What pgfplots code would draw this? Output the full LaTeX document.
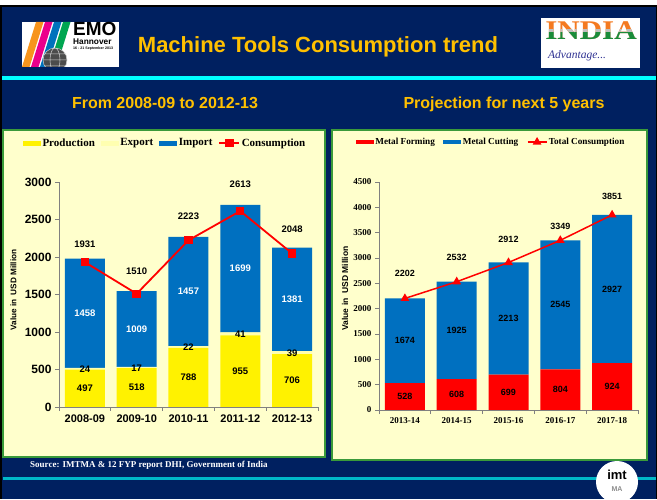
\documentclass[border=0pt]{standalone}
\usepackage{fontspec}
\setmainfont{Liberation Serif}
\setsansfont{Liberation Sans}
\usepackage{pgfplots}
\pgfplotsset{compat=1.18}
\definecolor{navy}{HTML}{002060}
\definecolor{amber}{HTML}{FFC000}
\definecolor{cyanl}{HTML}{00FFFF}
\definecolor{teall}{HTML}{00B8C8}
\definecolor{panelbg}{HTML}{FFFFCC}
\definecolor{panelbd}{HTML}{3A9A3A}
\definecolor{barblue}{HTML}{0070C0}
\definecolor{exportc}{HTML}{FFFFB0}
\definecolor{axisgray}{HTML}{808080}
\definecolor{emoorange}{HTML}{F7941D}
\definecolor{emomagenta}{HTML}{EC008C}
\definecolor{emoblue}{HTML}{0072BC}
\definecolor{emogreen}{HTML}{00A651}
\definecolor{indiaor}{HTML}{F47A20}
\definecolor{indiagr}{HTML}{1A8C3A}
\definecolor{advblue}{HTML}{2E3192}
\pgfplotsset{
  linelegendA/.style={legend image code/.code={\draw[##1, mark repeat=2, mark phase=2] plot coordinates {(0pt,0pt) (10pt,0pt) (20pt,0pt)};}},
  linelegendB/.style={legend image code/.code={\draw[##1, mark repeat=2, mark phase=2] plot coordinates {(0pt,0pt) (9.5pt,0pt) (19pt,0pt)};}},
  swatchA/.style={legend image code/.code={\fill[##1, draw=none] (0pt,-2.5pt) rectangle (18pt,2.5pt);}},
  swatchB/.style={legend image code/.code={\fill[##1, draw=none] (0pt,-2.3pt) rectangle (18pt,2.3pt);}},
}
\begin{document}
\begin{tikzpicture}[x=1pt,y=1pt]
\useasboundingbox (0,0) rectangle (657,499);
\fill[white] (0,0) rectangle (657,499);
\fill[black] (0,0) rectangle (657,494);
\fill[navy] (1.5,0) rectangle (655.5,492);
% EMO logo
\fill[white] (22,432) rectangle (119,477);
\begin{scope}
\clip (22,432) rectangle (119,477);
\foreach \c [count=\i from 0] in {emoorange,emomagenta,emoblue,emogreen}
  {\fill[\c] ({22+9*\i},432) -- ({29.5+9*\i},432) -- ({43.5+9*\i},477) -- ({36+9*\i},477) -- cycle;}
\fill[black!70] (55,439) circle (12);
\draw[white!80!black, line width=0.5pt] (55,439) circle (12) (55,439) ellipse (5 and 12) (43,439) -- (67,439) (44,445) -- (66,445) (44,433) -- (66,433);
\node[anchor=base west, inner sep=0pt, font=\fontsize{19}{19}\sffamily\bfseries] at (73,463) {EMO};
\node[anchor=base west, inner sep=0pt, font=\fontsize{8.3}{8.3}\sffamily\bfseries] at (73,454) {Hannover};
\node[anchor=base west, inner sep=0pt, font=\fontsize{3.6}{3.6}\sffamily\bfseries] at (73,449) {16 - 21 September 2013};
\end{scope}
% INDIA logo
\fill[white] (541,431) rectangle (640,481);
\node[anchor=base, inner sep=0pt, xscale=1.15, text=indiaor, font=\fontsize{27}{27}\rmfamily\bfseries] at (591,459) {INDIA};
\begin{scope}
\clip (541,459) rectangle (640,469);
\node[anchor=base, inner sep=0pt, xscale=1.15, text=black!25, font=\fontsize{27}{27}\rmfamily\bfseries] at (591,459) {INDIA};
\end{scope}
\begin{scope}
\clip (541,455) rectangle (640,466);
\node[anchor=base, inner sep=0pt, xscale=1.15, text=indiagr, font=\fontsize{27}{27}\rmfamily\bfseries] at (591,459) {INDIA};
\end{scope}
\node[anchor=base west, inner sep=0pt, text=advblue, font=\fontsize{11.5}{11.5}\rmfamily\itshape] at (548,440) {Advantage...};
% title
\node[anchor=base, inner sep=0pt, text=amber, font=\fontsize{22}{22}\sffamily\bfseries] at (318,446) {Machine Tools Consumption trend};
\fill[cyanl] (1.5,419) rectangle (655.5,423);
\node[anchor=base, inner sep=0pt, text=amber, font=\fontsize{16}{16}\sffamily\bfseries] at (165,390) {From 2008-09 to 2012-13};
\node[anchor=base, inner sep=0pt, text=amber, font=\fontsize{16}{16}\sffamily\bfseries] at (504,390) {Projection for next 5 years};
% panels
\filldraw[fill=panelbg, draw=panelbd, line width=2pt] (3,42) rectangle (325,369);
\filldraw[fill=panelbg, draw=panelbd, line width=2pt] (332,39) rectangle (647,369);
% source and bottom line
\node[anchor=base west, inner sep=0pt, text=white, font=\fontsize{9}{9}\rmfamily\bfseries] at (30,32) {Source: IMTMA \& 12 FYP report DHI, Government of India};
\fill[teall] (3,19) rectangle (655.5,22);
\fill[white] (617,17) circle (21);
\node[inner sep=0pt, font=\fontsize{13}{13}\sffamily\bfseries] at (617,24) {imt};
\node[inner sep=0pt, text=black!45, font=\fontsize{7}{7}\sffamily\bfseries] at (617,10) {MA};

% ---------- LEFT CHART ----------
\begin{axis}[at={(59pt,92pt)}, anchor=south west, scale only axis, width=259pt, height=225pt,
  xmin=-0.5, xmax=4.5, ymin=0, ymax=3000,
  ybar stacked, bar width=40pt,
  axis x line*=bottom, axis y line*=left,
  axis line style={draw=axisgray, line width=0.8pt, -},
  tick style={draw=axisgray, line width=0.8pt}, tick align=outside, major tick length=4pt,
  xtick={-0.5,0.5,1.5,2.5,3.5,4.5},
  xticklabels={2008-09,2009-10,2010-11,2011-12,2012-13,},
  xticklabel style={font=\fontsize{11}{11}\sffamily\bfseries, xshift=25.9pt},
  ytick={0,500,1000,1500,2000,2500,3000},
  yticklabel style={font=\fontsize{12}{12}\sffamily\bfseries},
  ylabel={Value in\ \ USD Million},
  ylabel style={at={(axis description cs:-0.176,0.52)}, anchor=center, font=\fontsize{8.2}{8.2}\sffamily\bfseries},
  /pgf/number format/assume math mode=true, /pgf/number format/1000 sep={}]
\addplot[fill=yellow, draw=none] coordinates {(0,497) (1,518) (2,788) (3,955) (4,706)};
\addplot[fill=exportc, draw=none] coordinates {(0,24) (1,17) (2,22) (3,41) (4,39)};
\addplot[fill=barblue, draw=none] coordinates {(0,1458) (1,1009) (2,1457) (3,1699) (4,1381)};
\end{axis}
\begin{axis}[at={(59pt,92pt)}, anchor=south west, scale only axis, width=259pt, height=225pt,
  xmin=-0.5, xmax=4.5, ymin=0, ymax=3000, axis lines=none, clip=false,
  legend style={at={(axis description cs:0.409,1.173)}, anchor=center, draw=none, fill=none,
    font=\fontsize{11}{11}\rmfamily\bfseries, inner sep=0pt, nodes={inner sep=1.5pt},
    /tikz/every even column/.append style={column sep=4.5pt}},
  legend columns=-1, legend cell align=left]
\addlegendimage{swatchA, fill=yellow}
\addlegendentry{Production}
\addlegendimage{swatchA, fill=exportc}
\addlegendentry{Export}
\addlegendimage{swatchA, fill=barblue}
\addlegendentry{Import}
\addplot[red, line width=1.8pt, mark=square*, mark size=3.3pt, mark options={solid}, linelegendA]
  coordinates {(0,1931) (1,1510) (2,2223) (3,2613) (4,2048)};
\addlegendentry{Consumption}
% labels
\addplot[forget plot, only marks, mark=none, nodes near coords, point meta=explicit symbolic,
  every node near coord/.append style={anchor=center, text=black, font=\fontsize{9.5}{9.5}\sffamily\bfseries}]
  table[meta=l] {
x y l
0 248 497
1 259 518
2 394 788
3 477 955
4 353 706
0 507 24
1 522 17
2 799 22
3 974 41
4 722 39
0 2173 1931
1 1813 1510
2 2547 2223
3 2973 2613
4 2373 2048
};
\addplot[forget plot, only marks, mark=none, nodes near coords, point meta=explicit symbolic,
  every node near coord/.append style={anchor=center, text=white, font=\fontsize{9.5}{9.5}\sffamily\bfseries}]
  table[meta=l] {
x y l
0 1250 1458
1 1040 1009
2 1538 1457
3 1846 1699
4 1436 1381
};
\end{axis}

% ---------- RIGHT CHART ----------
\begin{axis}[at={(379pt,89pt)}, anchor=south west, scale only axis, width=259pt, height=228pt,
  xmin=-0.5, xmax=4.5, ymin=0, ymax=4500,
  ybar stacked, bar width=40pt,
  axis x line*=bottom, axis y line*=left,
  axis line style={draw=axisgray, line width=0.8pt, -},
  tick style={draw=axisgray, line width=0.8pt}, tick align=outside, major tick length=4pt,
  xtick={-0.5,0.5,1.5,2.5,3.5,4.5},
  xticklabels={2013-14,2014-15,2015-16,2016-17,2017-18,},
  xticklabel style={font=\fontsize{9}{9}\rmfamily\bfseries, xshift=25.9pt},
  ytick={0,500,1000,1500,2000,2500,3000,3500,4000,4500},
  yticklabel style={font=\fontsize{9}{9}\rmfamily\bfseries},
  ylabel={Value in\ \ USD Million},
  ylabel style={at={(axis description cs:-0.131,0.533)}, anchor=center, font=\fontsize{8.5}{8.5}\sffamily\bfseries},
  /pgf/number format/assume math mode=true, /pgf/number format/1000 sep={}]
\addplot[fill=red, draw=none] coordinates {(0,528) (1,608) (2,699) (3,804) (4,924)};
\addplot[fill=barblue, draw=none] coordinates {(0,1674) (1,1925) (2,2213) (3,2545) (4,2927)};
\end{axis}
\begin{axis}[at={(379pt,89pt)}, anchor=south west, scale only axis, width=259pt, height=228pt,
  xmin=-0.5, xmax=4.5, ymin=0, ymax=4500, axis lines=none, clip=false,
  legend style={at={(axis description cs:0.432,1.175)}, anchor=center, draw=none, fill=none,
    font=\fontsize{9.2}{9.2}\rmfamily\bfseries, inner sep=0pt, nodes={inner sep=1.5pt},
    /tikz/every even column/.append style={column sep=7pt}},
  legend columns=-1, legend cell align=left]
\addlegendimage{swatchB, fill=red}
\addlegendentry{Metal Forming}
\addlegendimage{swatchB, fill=barblue}
\addlegendentry{Metal Cutting}
\addplot[red, line width=1.5pt, mark=triangle*, mark size=3.6pt, mark options={solid}, linelegendB]
  coordinates {(0,2202) (1,2532) (2,2912) (3,3349) (4,3851)};
\addlegendentry{Total Consumption}
\addplot[forget plot, only marks, mark=none, nodes near coords, point meta=explicit symbolic,
  every node near coord/.append style={anchor=center, text=black, font=\fontsize{9}{9}\sffamily\bfseries}]
  table[meta=l] {
x y l
0 264 528
1 304 608
2 350 699
3 402 804
4 462 924
0 1365 1674
1 1570 1925
2 1805 2213
3 2076 2545
4 2387 2927
0 2697 2202
1 3004 2532
2 3367 2912
3 3629 3349
4 4207 3851
};
\end{axis}
\end{tikzpicture}
\end{document}
